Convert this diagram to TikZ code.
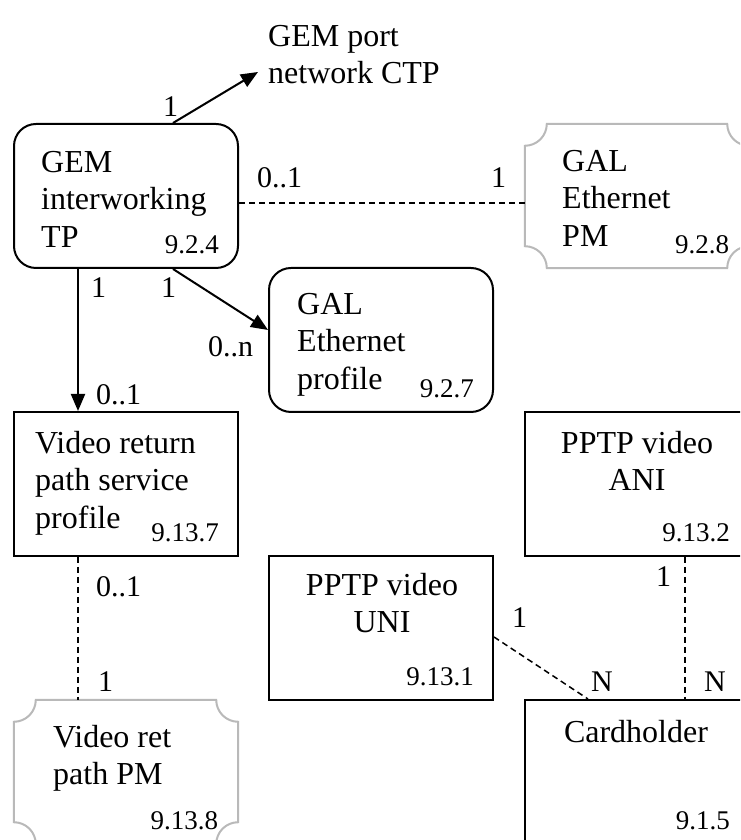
\documentclass[tikz,border=0pt]{standalone}
\usepackage{fontspec}
\setmainfont{Liberation Serif}
\usetikzlibrary{arrows.meta,calc}
\definecolor{pmgray}{RGB}{185,185,185}

% frame with cut-in corners for the PM boxes
\newcommand\pmframe[1]{%
  \draw[pmline] ([yshift=-22pt]#1.north west) arc[start angle=-90,end angle=0,radius=22pt]
    -- ([xshift=-22pt]#1.north east) arc[start angle=180,end angle=270,radius=22pt]
    -- ([yshift=22pt]#1.south east) arc[start angle=90,end angle=180,radius=22pt]
    -- ([xshift=22pt]#1.south west) arc[start angle=0,end angle=90,radius=22pt]
    -- cycle;}

\begin{document}
\begin{tikzpicture}
[x=1pt,y=1pt,every node/.style={inner sep=0pt},
 obj/.style={draw,line width=2pt,minimum width=224pt,minimum height=144pt},
 objr/.style={obj,rounded corners=22pt},
 pm/.style={minimum width=224pt,minimum height=144pt},
 pmline/.style={draw=pmgray,line width=2pt},
 txt/.style={font=\fontsize{32}{37.5}\selectfont,align=left,anchor=north west},
 ctxt/.style={font=\fontsize{32}{37.5}\selectfont,align=center,anchor=north},
 secno/.style={font=\fontsize{27}{30}\selectfont,anchor=base east},
 mult/.style={font=\fontsize{30}{34}\selectfont,anchor=base west},
 assoc/.style={line width=2pt,-{Triangle[length=17pt,width=14pt]}},
 link/.style={line width=1.5pt,dash pattern=on 6pt off 4pt}]
\clip (0,0) rectangle (740,840);

\node[objr] (gemitp) at (126,644) {};
\node[pm] (galpm) at (637,644) {};
\node[objr] (galprof) at (381,500) {};
\node[obj] (vrsp) at (126,356) {};
\node[obj] (aniv) at (637,356) {};
\node[obj] (univ) at (381,212) {};
\node[obj] (card) at (637,68) {};
\node[pm] (vrpm) at (126,68) {};
\pmframe{galpm}
\pmframe{vrpm}

\node[txt] (gemitp-t) at (41,689) {GEM\\interworking\\TP};
\node[txt] (galpm-t) at (562,690) {GAL\\Ethernet\\PM};
\node[txt] (galprof-t) at (297,547) {GAL\\Ethernet\\profile};
\node[txt] (vrsp-t) at (35,409) {Video return\\path service\\profile};
\node[txt] (vrpm-t) at (53,115) {Video ret\\path PM};
\node[ctxt] (aniv-t) at (637,409) {PPTP video\\ANI};
\node[ctxt] (univ-t) at (382,267) {PPTP video\\UNI};
\node[ctxt] (card-t) at (636,120) {Cardholder};
\node[txt] (ctp) at (268,815) {GEM port\\network CTP};

\foreach \n/\s in {gemitp/9.2.4, galpm/9.2.8, galprof/9.2.7, vrsp/9.13.7,
  aniv/9.13.2, univ/9.13.1, card/9.1.5, vrpm/9.13.8}
  \node[secno] (\n-no) at ([shift={(-20,15)}]\n.south east) {\s};

% associations
\coordinate (ctp-in) at (258,768);
\draw[assoc] ([xshift=47pt]gemitp.north) -- (ctp-in);
\draw[assoc] ([xshift=47pt]gemitp.south) -- ([yshift=10pt]galprof.west);
\draw[assoc] ([xshift=-48pt]gemitp.south) -- ([xshift=-48pt]vrsp.north);

\coordinate (gemitp-e) at ([yshift=-7pt]gemitp.east);
\coordinate (galpm-w) at ([yshift=-7pt]galpm.west);
\coordinate (vrsp-s) at ([xshift=-48pt]vrsp.south);
\coordinate (vrpm-n) at ([xshift=-48pt]vrpm.north);
\coordinate (univ-e) at ([yshift=-9pt]univ.east);
\coordinate (card-nw) at ([xshift=-49pt]card.north);
\coordinate (aniv-s) at ([xshift=48pt]aniv.south);
\coordinate (card-ne) at ([xshift=48pt]card.north);
\path
\foreach \startNode/\endNode in {gemitp-e/galpm-w, vrsp-s/vrpm-n, univ-e/card-nw, aniv-s/card-ne}
{
	(\startNode) edge[link] (\endNode)
};

% multiplicities
\node[mult] (m-ctp) at (163,723) {1};
\node[mult] (m-gem) at (257,652) {0..1};
\node[mult] (m-pm) at (491,652) {1};
\node[mult] (m-vr1) at (91,542) {1};
\node[mult] (m-pr1) at (161,542) {1};
\node[mult] (m-prn) at (208,483) {0..n};
\node[mult] (m-vr2) at (96,435) {0..1};
\node[mult] (m-vr3) at (96,243) {0..1};
\node[mult] (m-pm2) at (98,148) {1};
\node[mult] (m-ani) at (656,253) {1};
\node[mult] (m-uni) at (512,212) {1};
\node[mult] (m-n1) at (591,148) {N};
\node[mult] (m-n2) at (704,148) {N};
\end{tikzpicture}
\end{document}
